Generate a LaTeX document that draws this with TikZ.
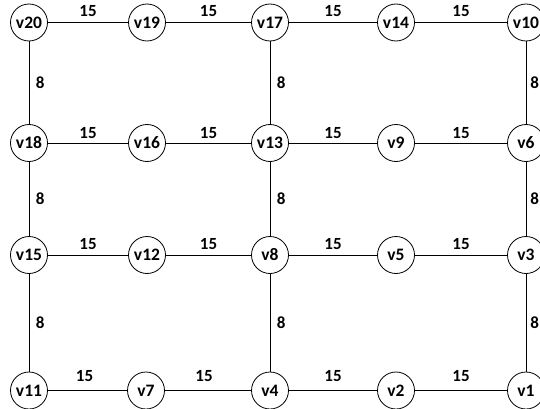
\documentclass[tikz,border=0pt]{standalone}
\usepackage{fontspec}
\setmainfont{Carlito}
\begin{document}
\begin{tikzpicture}[x=1pt,y=1pt,
  vtx/.style={circle,draw=black,line width=0.8pt,minimum size=37pt,inner sep=0pt,fill=white,font=\fontsize{17.5}{20}\selectfont\bfseries},
  edge/.style={draw=black,line width=0.8pt},
  hl/.style={above,inner sep=0pt,yshift=5pt,font=\fontsize{17}{20}\selectfont\bfseries},
  vl/.style={right,inner sep=0pt,xshift=6.5pt,font=\fontsize{17}{20}\selectfont\bfseries}]
\clip (0,0) rectangle (540,-409);
\fill[white] (0,0) rectangle (540,-409);
% row 1
\node[vtx] (v20) at (29,-22.5) {v20};
\node[vtx] (v19) at (147,-22.5) {v19};
\node[vtx] (v17) at (270,-22.5) {v17};
\node[vtx] (v14) at (396,-22.5) {v14};
\node[vtx] (v10) at (526,-22.5) {v10};
% row 2
\node[vtx] (v18) at (29,-143) {v18};
\node[vtx] (v16) at (147,-143) {v16};
\node[vtx] (v13) at (270,-143) {v13};
\node[vtx] (v9) at (396,-143) {v9};
\node[vtx] (v6) at (526,-143) {v6};
% row 3
\node[vtx] (v15) at (29,-255) {v15};
\node[vtx] (v12) at (147,-255) {v12};
\node[vtx] (v8) at (270,-255) {v8};
\node[vtx] (v5) at (396,-255) {v5};
\node[vtx] (v3) at (526,-255) {v3};
% row 4
\node[vtx] (v11) at (29,-390.5) {v11};
\node[vtx] (v7) at (146,-390.5) {v7};
\node[vtx] (v4) at (270,-390.5) {v4};
\node[vtx] (v2) at (396,-390.5) {v2};
\node[vtx] (v1) at (526,-390.5) {v1};
% horizontal edges
\draw[edge] (v20) -- node[hl]{15} (v19);
\draw[edge] (v19) -- node[hl]{15} (v17);
\draw[edge] (v17) -- node[hl]{15} (v14);
\draw[edge] (v14) -- node[hl]{15} (v10);
\draw[edge] (v18) -- node[hl,yshift=-1pt]{15} (v16);
\draw[edge] (v16) -- node[hl,yshift=-1pt]{15} (v13);
\draw[edge] (v13) -- node[hl,yshift=-1pt]{15} (v9);
\draw[edge] (v9) -- node[hl,yshift=-1pt]{15} (v6);
\draw[edge] (v15) -- node[hl]{15} (v12);
\draw[edge] (v12) -- node[hl]{15} (v8);
\draw[edge] (v8) -- node[hl]{15} (v5);
\draw[edge] (v5) -- node[hl]{15} (v3);
\draw[edge] (v11) -- node[hl,yshift=3pt,xshift=-3pt]{15} (v7);
\draw[edge] (v7) -- node[hl,yshift=3pt,xshift=-4pt]{15} (v4);
\draw[edge] (v4) -- node[hl,yshift=3pt]{15} (v2);
\draw[edge] (v2) -- node[hl,yshift=3pt]{15} (v1);
% vertical edges
\draw[edge] (v20) -- node[vl]{8} (v18);
\draw[edge] (v18) -- node[vl]{8} (v15);
\draw[edge] (v15) -- node[vl]{8} (v11);
\draw[edge] (v17) -- node[vl]{8} (v13);
\draw[edge] (v13) -- node[vl]{8} (v8);
\draw[edge] (v8) -- node[vl]{8} (v4);
\draw[edge] (v10) -- node[vl,xshift=-2.5pt]{8} (v6);
\draw[edge] (v6) -- node[vl,xshift=-2.5pt]{8} (v3);
\draw[edge] (v3) -- node[vl,xshift=-2.5pt]{8} (v1);
\end{tikzpicture}
\end{document}
